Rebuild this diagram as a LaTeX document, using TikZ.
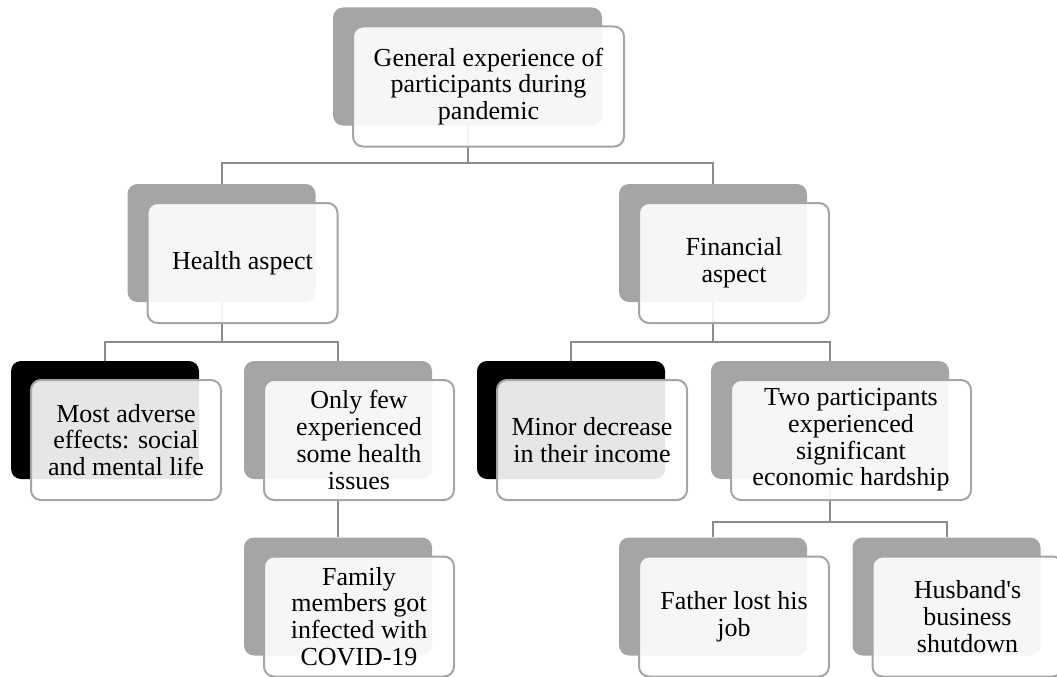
\documentclass[tikz,border=0pt]{standalone}
\usepackage{fontspec}
\setmainfont{Liberation Serif}
\definecolor{boxgray}{RGB}{165,165,165}
\definecolor{linegray}{RGB}{140,140,140}

\begin{document}
\begin{tikzpicture}[x=1pt, y=-1pt, back/.style={fill=boxgray,rounded corners=10pt,minimum width=188pt,minimum height=118pt,inner sep=0pt}, front/.style={draw=boxgray,line width=2pt,fill=white,fill opacity=0.9,text opacity=1,rounded corners=10pt,minimum width=190pt,minimum height=120pt,inner sep=2pt,align=center,font=\fontsize{26}{26.7}\selectfont}, link/.style={draw=linegray,line width=2pt}]
\useasboundingbox (0,0) rectangle (1057,677);
% back plates
\node[back,minimum width=269pt] (top) at (467.5,66.5) {};
\node[back] (health) at (221.5,243) {};
\node[back] (fin) at (713,243) {};
\node[back,fill=black] (adverse) at (105,420) {};
\node[back] (few) at (338,420) {};
\node[back] (family) at (338,596.5) {};
\node[back,fill=black] (minor) at (571,420) {};
\node[back,minimum width=238pt] (two) at (830,420) {};
\node[back] (father) at (713,596.5) {};
\node[back] (husband) at (946.5,596.5) {};
% connectors
\draw[link] (top.south) -- ++(0,37) -| (health.north); \draw[link] (top.south) -- ++(0,37) -| (fin.north);
\draw[link] (health.south) -- ++(0,40) -| (adverse.north); \draw[link] (health.south) -- ++(0,40) -| (few.north);
\draw[link] (few.south) -- (family.north);
\draw[link] (fin.south) -- ++(0,40) -| (minor.north); \draw[link] (fin.south) -- ++(0,40) -| (two.north);
\draw[link] (two.south) -- ++(0,43) -| (father.north); \draw[link] (two.south) -- ++(0,43) -| (husband.north);
% text cards
\node[front,minimum width=271pt] (topT) at ([shift={(21,20)}]top.center) {General experience of\\participants during\\pandemic};
\node[front] (healthT) at ([shift={(21,20)}]health.center) {Health aspect};
\node[front] (finT) at ([shift={(21,20)}]fin.center) {Financial\\aspect};
\node[front] (adverseT) at ([shift={(21,20)}]adverse.center) {Most adverse\\effects: social\\and mental life};
\node[front] (fewT) at ([shift={(21,20)}]few.center) {Only few\\experienced\\some health\\issues};
\node[front] (familyT) at ([shift={(21,20)}]family.center) {Family\\members got\\infected with\\COVID-19};
\node[front] (minorT) at ([shift={(21,20)}]minor.center) {Minor decrease\\in their income};
\node[front,minimum width=240pt] (twoT) at ([shift={(21,20)}]two.center) {Two participants\\experienced\\significant\\economic hardship};
\node[front] (fatherT) at ([shift={(21,20)}]father.center) {Father lost his\\job};
\node[front] (husbandT) at ([shift={(21,20)}]husband.center) {Husband\textquotesingle s\\business\\shutdown};
\end{tikzpicture}
\end{document}
